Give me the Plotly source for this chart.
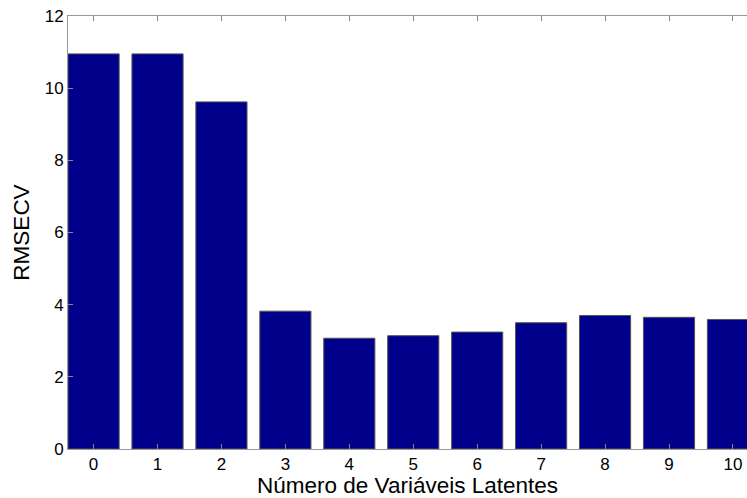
import plotly.graph_objects as go

categories = [0, 1, 2, 3, 4, 5, 6, 7, 8, 9, 10]
rmsecv = [10.95, 10.95, 9.62, 3.82, 3.07, 3.14, 3.24, 3.50, 3.70, 3.65, 3.59]
y_ticks = [0, 2, 4, 6, 8, 10, 12]

fig = go.Figure()
fig.add_trace(go.Bar(
    x=categories, y=rmsecv, width=0.8,
    marker=dict(color="#00008B", line=dict(color="#555555", width=1)),
))

fig.update_layout(
    width=747, height=498,
    margin=dict(l=68, r=0, t=16, b=49),
    plot_bgcolor="white", paper_bgcolor="white",
    showlegend=False,
    font=dict(family="Liberation Sans, Arial, sans-serif", size=17, color="black"),
    bargap=0.2,
)
fig.update_xaxes(
    range=[-0.4, 10.22], tickvals=categories, ticktext=[str(c) for c in categories],
    ticks="inside", ticklen=5, tickcolor="#888888",
    showline=True, linecolor="#999999", linewidth=1, mirror="ticks",
    showgrid=False, zeroline=False,
    title=dict(text="Número de Variáveis Latentes", font=dict(size=22.5), standoff=0),
)
fig.update_yaxes(
    range=[0, 12], tickvals=y_ticks,
    ticks="inside", ticklen=5, tickcolor="#888888",
    showline=True, linecolor="#999999", linewidth=1, mirror=False,
    showgrid=False, zeroline=False,
    title=dict(text="RMSECV", font=dict(size=22.5), standoff=8),
)

fig.write_html("out.html")
